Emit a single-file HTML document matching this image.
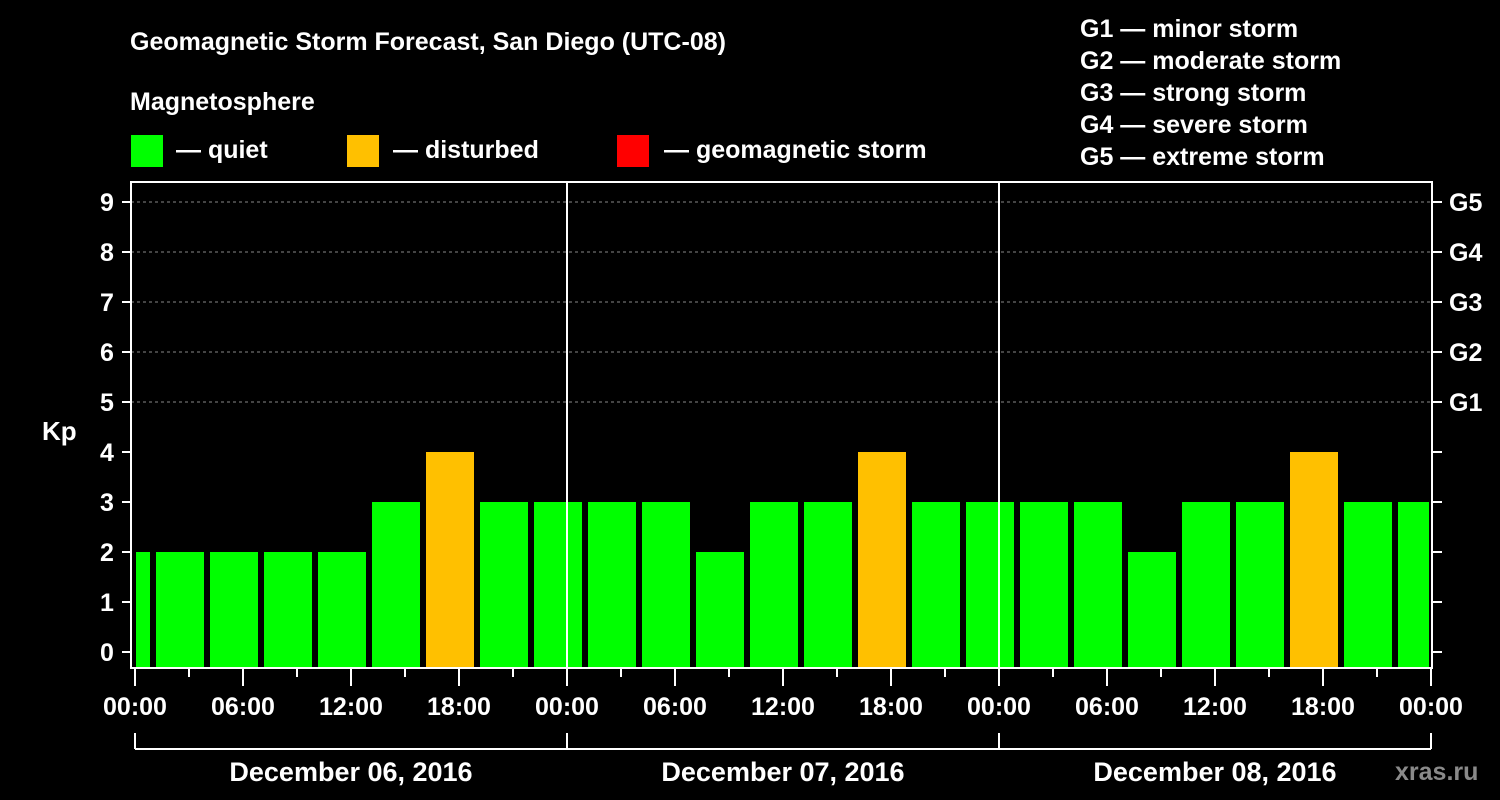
<!DOCTYPE html>
<html><head><meta charset="utf-8"><style>
body{margin:0;background:#000;width:1500px;height:800px;overflow:hidden}
svg{display:block;font-family:"Liberation Sans",sans-serif;font-weight:bold;fill:#fff}
</style></head><body>
<svg id="chart" width="1500" height="800">
<text x="130" y="50" font-size="25">Geomagnetic Storm Forecast, San Diego (UTC-08)</text>
<text x="130" y="110" font-size="25">Magnetosphere</text>
<g><rect x="131" y="135" width="32" height="32" fill="#00ff00"/><text x="176" y="158" font-size="25">— quiet</text></g>
<g><rect x="347" y="135" width="32" height="32" fill="#ffc000"/><text x="393" y="158" font-size="25">— disturbed</text></g>
<g><rect x="617" y="135" width="32" height="32" fill="#ff0000"/><text x="664" y="158" font-size="25">— geomagnetic storm</text></g>
<g font-size="25">
<text x="1080" y="37">G1 — minor storm</text><text x="1080" y="69">G2 — moderate storm</text><text x="1080" y="101">G3 — strong storm</text><text x="1080" y="133">G4 — severe storm</text><text x="1080" y="165">G5 — extreme storm</text></g>
<text x="42" y="440" font-size="26">Kp</text>
<text x="1395" y="780" font-size="25" fill="#888" style="fill:#8a8a8a">xras.ru</text>
<g id="plot"></g>
</svg>
<script>
const kpValues=[2,2,2,2,2,3,4,3,3,3,3,2,3,3,4,3,3,3,3,2,3,3,4,3,3];
const slotStartHours=[-2,1,4,7,10,13,16,19,22,25,28,31,34,37,40,43,46,49,52,55,58,61,64,67,70];
const dayLabels=["December 06, 2016","December 07, 2016","December 08, 2016"];
const timeLabels=["00:00","06:00","12:00","18:00"];
const gLabels=["G1","G2","G3","G4","G5"];
const NS="http://www.w3.org/2000/svg";
const X0=135,PXH=18,Y0=652,PXK=50,TOP=182,BOT=668,L=131,R=1432,TOTAL=72;
const xs=h=>X0+h*PXH, ys=k=>Y0-k*PXK;
const plot=document.getElementById('plot');
function mk(t,a,p){const e=document.createElementNS(NS,t);for(const k in a)e.setAttribute(k,a[k]);(p||plot).appendChild(e);return e;}
// grid
for(let k=5;k<=9;k++){const e=mk('line',{x1:L,x2:R,y1:ys(k),y2:ys(k),stroke:'#888','stroke-dasharray':'3,3','stroke-width':1});

}
// bars
kpValues.forEach((v,i)=>{let x1=Math.max(xs(slotStartHours[i])+3,X0+1),x2=Math.min(xs(slotStartHours[i]+3)-3,R-3);
const c=v>=5?'#ff0000':v>=4?'#ffc000':'#00ff00';
const b=mk('rect',{x:x1,y:ys(v),width:x2-x1,height:BOT-ys(v),fill:c});

});
// day separators
for(let d=1;d<3;d++){const e=mk('line',{x1:xs(d*24),x2:xs(d*24),y1:TOP,y2:BOT,stroke:'#fff','stroke-width':2});

}
// frame
const f=mk('rect',{x:L,y:TOP,width:R-L,height:BOT-TOP,fill:'none',stroke:'#fff','stroke-width':2});


// y ticks
for(let k=0;k<=9;k++){mk('line',{x1:122,x2:L,y1:ys(k),y2:ys(k),stroke:'#fff','stroke-width':2});mk('line',{x1:R,x2:1442,y1:ys(k),y2:ys(k),stroke:'#fff','stroke-width':2});
const t=mk('text',{x:107,y:ys(k)+9,'font-size':25,'text-anchor':'middle'});t.textContent=k;

}
gLabels.forEach((g,i)=>{const t=mk('text',{x:1449,y:ys(i+5)+9,'font-size':25});t.textContent=g;

});
// x ticks
for(let h=0;h<=TOTAL;h+=3){const major=h%6===0;mk('line',{x1:xs(h),x2:xs(h),y1:BOT,y2:major?686:677,stroke:'#fff','stroke-width':2});
if(major){const t=mk('text',{x:xs(h),y:715,'font-size':25,'text-anchor':'middle'});t.textContent=timeLabels[(h/6)%4];

}}
// day brackets
mk('line',{x1:xs(0),x2:xs(TOTAL),y1:749,y2:749,stroke:'#fff','stroke-width':2});
for(let d=0;d<=3;d++)mk('line',{x1:xs(d*24),x2:xs(d*24),y1:733,y2:749,stroke:'#fff','stroke-width':2});
dayLabels.forEach((s,i)=>{const t=mk('text',{x:xs(i*24+12),y:781,'font-size':27,'text-anchor':'middle'});t.textContent=s;

});
</script>
</body></html>
